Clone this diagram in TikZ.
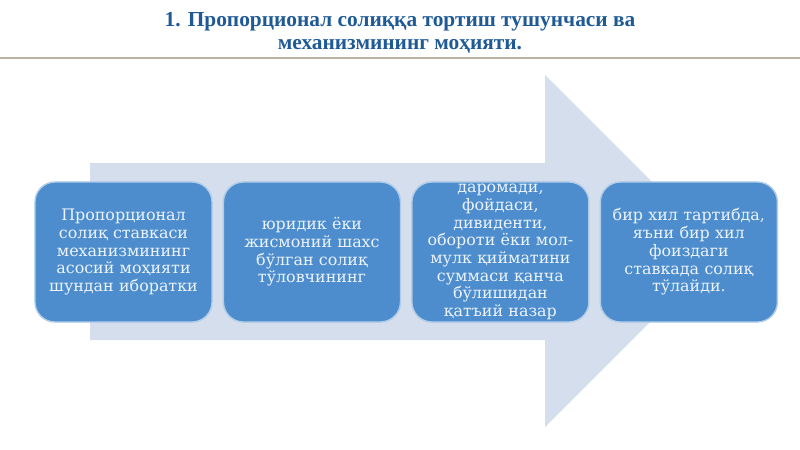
\documentclass[tikz,border=0pt]{standalone}
\usepackage{fontspec}
\setmainfont{Liberation Serif}
\newfontfamily\boxfont{DejaVu Serif}
\usetikzlibrary{positioning}
\definecolor{titleblue}{RGB}{31,90,150}
\definecolor{boxblue}{RGB}{77,141,205}
\definecolor{boxtext}{RGB}{236,243,251}
\definecolor{arrowgray}{RGB}{212,222,236}
\definecolor{rulegray}{RGB}{190,176,162}
\tikzset{
  stepbox/.style={draw=boxblue!45!white, line width=1pt, fill=boxblue,
    rounded corners=0.5cm, minimum width=4.425cm, minimum height=3.5cm,
    text width=4.3cm, align=center, inner sep=0pt, text=boxtext,
    font=\boxfont\fontsize{11.3}{12.6}\selectfont},
  titletext/.style={font=\bfseries\fontsize{15.2}{16.4}\selectfont,
    text=titleblue, align=center}
}

\begin{document}
\begin{tikzpicture}[x=0.025cm,y=-0.025cm]
\useasboundingbox (0,0) rectangle (800,449);

% title and rule
\node[titletext] (title) at (400,33) {1. Пропорционал солиққа тортиш тушунчаси ва\\механизмининг моҳияти.};
\draw[rulegray, line width=2pt] (0,58) -- (800,58);

% big arrow behind the steps
\fill[arrowgray] (90,163) -- (545,163) -- (545,75) -- (721,251) -- (545,427) -- (545,340) -- (90,340) -- cycle;

% steps
\node[stepbox] (s1) at (123.5,252) {Пропорционал\\солиқ ставкаси\\механизмининг\\асосий моҳияти\\шундан иборатки};
\node[stepbox, right=0.25cm of s1] (s2) {юридик ёки\\жисмоний шахс\\бўлган солиқ\\тўловчининг};
\node[stepbox, right=0.25cm of s2] (s3) {даромади,\\фойдаси,\\дивиденти,\\обороти ёки мол-\\мулк қийматини\\суммаси қанча\\бўлишидан\\қатъий назар};
\node[stepbox, right=0.25cm of s3] (s4) {бир хил тартибда,\\яъни бир хил\\фоиздаги\\ставкада солиқ\\тўлайди.};

\end{tikzpicture}
\end{document}
